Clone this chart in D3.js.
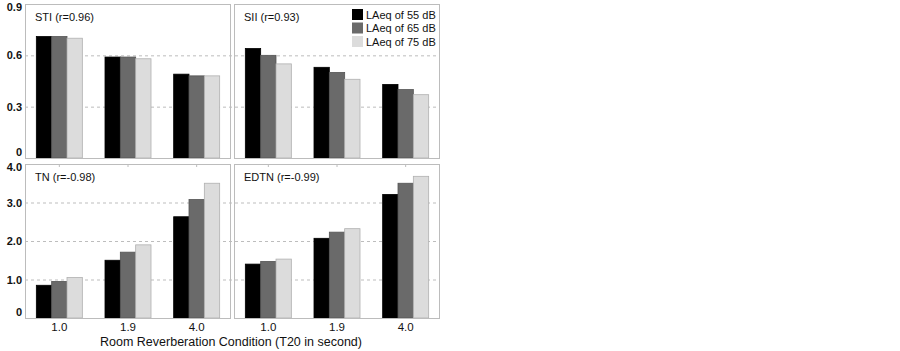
<!DOCTYPE html>
<html>
<head>
<meta charset="utf-8">
<style>
  body { margin: 0; background: #fff; }
  text { font-family: "Liberation Sans", Arial, sans-serif; fill: #111; }
</style>
<script src="https://d3js.org/d3.v7.min.js"></script>
</head>
<body>
<script>
// conditions (T20 in second)
var conditions = ["1.0", "1.9", "4.0"];
var levels = ["LAeq of 55 dB", "LAeq of 65 dB", "LAeq of 75 dB"];
var colors = ["#000000", "#6a6a6a", "#dcdcdc"];

var sti  = [[0.71, 0.71, 0.70], [0.59, 0.59, 0.58], [0.49, 0.48, 0.48]];
var sii  = [[0.64, 0.60, 0.55], [0.53, 0.50, 0.46], [0.43, 0.40, 0.37]];
var tn   = [[0.85, 0.95, 1.05], [1.50, 1.71, 1.90], [2.63, 3.08, 3.50]];
var edtn = [[1.40, 1.47, 1.53], [2.07, 2.23, 2.32], [3.21, 3.50, 3.68]];

var topTicks = [0, 0.3, 0.6, 0.9];
var botTicks = [0, 1, 2, 3, 4];

var w = 900, h = 351;
var svg = d3.select("body").append("svg").attr("width", w).attr("height", h);

var cols = [[25, 231], [234, 440]];
var yTop = d3.scaleLinear().domain([0, 0.9]).range([158, 4]);
var yBot = d3.scaleLinear().domain([0, 4]).range([318, 164]);

var panels = [
  { label: "STI (r=0.96)", data: sti, col: 0, y: yTop },
  { label: "SII (r=0.93)", data: sii, col: 1, y: yTop },
  { label: "TN (r=-0.98)", data: tn, col: 0, y: yBot },
  { label: "EDTN (r=-0.99)", data: edtn, col: 1, y: yBot }
];

// gridlines span both columns
function grid(y, vals) {
  svg.append("g").selectAll("line")
    .data(vals)
    .enter().append("line")
    .attr("x1", 25).attr("x2", 440)
    .attr("y1", function (d) { return y(d) + 0.5; })
    .attr("y2", function (d) { return y(d) + 0.5; })
    .attr("stroke", "#bdbdbd")
    .attr("stroke-dasharray", "3,3");
}
grid(yTop, [0.3, 0.6]);
grid(yBot, [1, 2, 3]);

panels.forEach(function (p) {
  var x0 = d3.scaleBand().domain(conditions).range(cols[p.col]).paddingInner(0.33).paddingOuter(0.165);
  var x1 = d3.scaleBand().domain(d3.range(levels.length)).range([0, x0.bandwidth()]);
  var y = p.y;
  var g = svg.append("g");

  g.selectAll("g.grp")
    .data(p.data)
    .enter().append("g")
    .attr("transform", function (d, i) { return "translate(" + x0(conditions[i]) + ",0)"; })
    .selectAll("rect")
    .data(function (d) { return d; })
    .enter().append("rect")
    .attr("x", function (d, j) { return x1(j); })
    .attr("y", function (d) { return y(d); })
    .attr("width", x1.bandwidth())
    .attr("height", function (d) { return y(0) - y(d); })
    .attr("fill", function (d, j) { return colors[j]; })
    .attr("stroke", function (d, j) { return j == 2 ? "#b0b0b0" : j == 1 ? "#555" : "#000"; })
    .attr("stroke-width", 0.8);

  // frame
  g.append("rect")
    .attr("x", cols[p.col][0] + 0.5)
    .attr("y", y.range()[1] + 0.5)
    .attr("width", cols[p.col][1] - cols[p.col][0] - 1)
    .attr("height", y.range()[0] - y.range()[1])
    .attr("fill", "none")
    .attr("stroke", "#bcbcbc");

  g.append("text")
    .attr("x", cols[p.col][0] + 10)
    .attr("y", y.range()[1] + 17)
    .style("font-size", "11px")
    .text(p.label);

  // small ticks at top of lower frames
  if (y === yBot) {
    g.selectAll("line.tk")
      .data(conditions)
      .enter().append("line")
      .attr("x1", function (d) { return x0(d) + x0.bandwidth() / 2; })
      .attr("x2", function (d) { return x0(d) + x0.bandwidth() / 2; })
      .attr("y1", y.range()[1]).attr("y2", y.range()[1] + 3)
      .attr("stroke", "#bcbcbc");

    g.selectAll("text.xl")
      .data(conditions)
      .enter().append("text")
      .attr("x", function (d) { return x0(d) + x0.bandwidth() / 2; })
      .attr("y", 331)
      .attr("text-anchor", "middle")
      .style("font-size", "11.5px")
      .text(function (d) { return d; });
  }
});

// y tick labels, end labels pulled inside the frame
function yLabels(y, vals) {
  var r = y.range();
  svg.append("g").selectAll("text")
    .data(vals)
    .enter().append("text")
    .attr("x", 22)
    .attr("y", function (d) { return Math.max(r[1] + 3, Math.min(r[0] - 6, y(d))) + 4; })
    .attr("text-anchor", "end")
    .style("font-size", "11px")
    .style("font-weight", "bold")
    .text(function (d) { return d === 0 ? "0" : d3.format(".1f")(d); });
}
yLabels(yTop, topTicks);
yLabels(yBot, botTicks);

// x axis title
svg.append("text")
  .attr("x", 231).attr("y", 346)
  .attr("text-anchor", "middle")
  .style("font-size", "12.5px")
  .text("Room Reverberation Condition (T20 in second)");

// legend
var leg = svg.append("g").attr("transform", "translate(352,9)");
levels.forEach(function (l, i) {
  leg.append("rect")
    .attr("x", 0).attr("y", i * 13.5)
    .attr("width", 11).attr("height", 11)
    .attr("fill", colors[i]);
  leg.append("text")
    .attr("x", 14).attr("y", i * 13.5 + 9.5)
    .style("font-size", "11px")
    .text(l);
});
</script>
</body>
</html>
